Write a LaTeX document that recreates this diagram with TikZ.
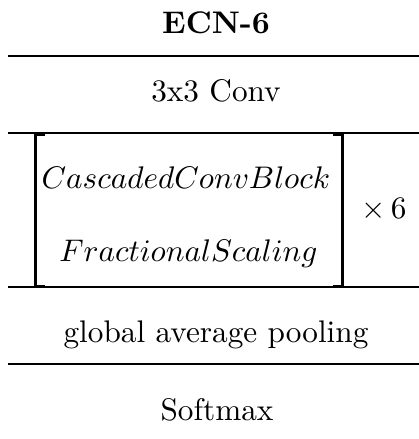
\documentclass[tikz,border=0pt]{standalone}
\usepackage{amsmath}
\usetikzlibrary{positioning}
\tikzset{
	row/.style={
		anchor=base,
		inner sep=0pt
	},
	rule/.style={
		draw=black,
		line width=0.45pt
	},
	bracket/.style={
		draw=black,
		line width=0.85pt
	},
}

\begin{document}
\begin{tikzpicture}[x=0.32pt,y=-0.32pt]
\useasboundingbox (0,0) rectangle (419,439);
\node [row] (title) at (216,33) {\bfseries ECN-6};
\node [row] (conv) at (216,101) {3x3 Conv};
\node [row] (cascade) at (186,188) {$CascadedConvBlock$};
\node [row] (frac) at (188.5,261) {$FractionalScaling$};
\node [row] (times) at (384,218) {$\times\,6$};
\node [row] (gap) at (216,342) {global average pooling};
\node [row] (softmax) at (217,420) {Softmax};

% rules
\foreach \y in {56,133,287,364}
	\draw[rule] (8,\y) -- (419,\y);

% brackets
\draw[bracket] (44.5,134.5) -| (35.5,286) -- (44.5,286);
\draw[bracket] (333,134.5) -| (342.5,286) -- (333,286);
\end{tikzpicture}
\end{document}
